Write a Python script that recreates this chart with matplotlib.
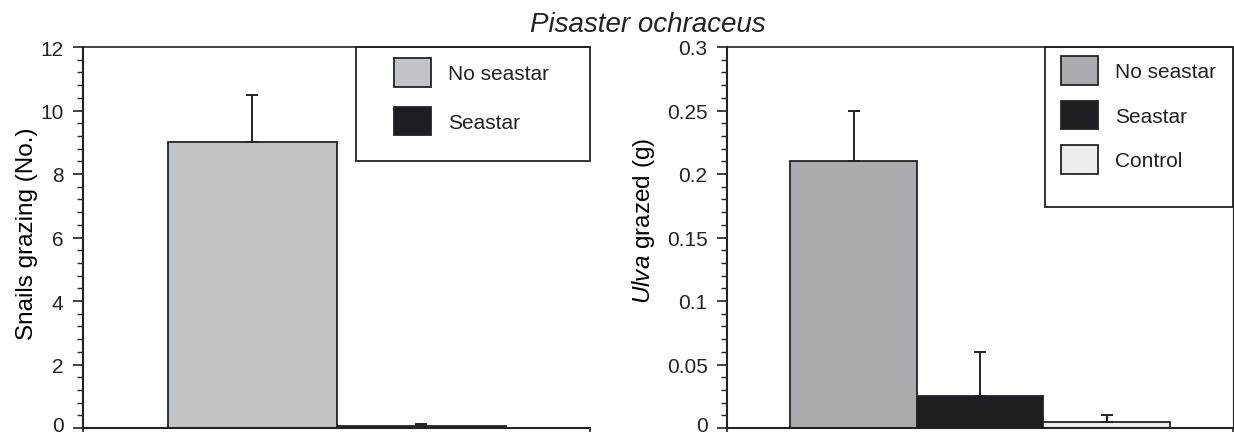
import matplotlib
matplotlib.use("Agg")
import matplotlib.pyplot as plt
from matplotlib.patches import Rectangle
from matplotlib.ticker import MultipleLocator, FuncFormatter
from matplotlib.transforms import ScaledTranslation
import numpy as np

# ---- data ----
title = "Pisaster ochraceus"
left_groups = ["No seastar", "Seastar"]
left_means = [9.0, 0.06]
left_err = [1.5, 0.06]
left_ylabel = "Snails grazing (No.)"

right_groups = ["No seastar", "Seastar", "Control"]
right_means = [0.21, 0.025, 0.005]
right_err = [0.04, 0.035, 0.005]
right_ylabel = r"$\mathit{Ulva}$ grazed (g)"

# ---- style ----
plt.rcParams['font.family'] = ['Liberation Sans', 'DejaVu Sans']
plt.rcParams['mathtext.fontset'] = 'custom'
plt.rcParams['mathtext.rm'] = 'Liberation Sans'
plt.rcParams['mathtext.it'] = 'Liberation Sans:italic'
plt.rcParams['text.color'] = '#222222'

edge = '#222326'
left_colors = ['#c2c5c8', '#1d1e21']
right_colors = ['#aaabae', '#1d1e21', '#ededee']

fig = plt.figure(figsize=(12.34, 4.35), dpi=100)
W, H = 1234, 435
ax_b, ax_t = 429, 48


def make_ax(x0, x1):
    return fig.add_axes([x0 / W, 1 - ax_b / H, (x1 - x0) / W, (ax_b - ax_t) / H])


axL = make_ax(83, 590)
axR = make_ax(727, 1233)


def style(ax, xlim, ylim, major, minor, right_spine):
    ax.set_xlim(*xlim)
    ax.set_ylim(*ylim)
    for s in ['left', 'bottom', 'top']:
        ax.spines[s].set_linewidth(1.5)
        ax.spines[s].set_color(edge)
    ax.spines['top'].set_linewidth(1.2)
    ax.spines['right'].set_visible(right_spine)
    ax.spines['right'].set_color(edge)
    ax.yaxis.set_major_locator(MultipleLocator(major))
    ax.yaxis.set_minor_locator(MultipleLocator(minor))
    ax.tick_params(axis='y', which='major', direction='out', length=7, width=1.2,
                   pad=7, labelsize=15, colors=edge)
    ax.tick_params(axis='y', which='minor', direction='out', length=4, width=1.0, colors=edge)
    ax.set_xticks([xlim[0], xlim[1]])
    ax.set_xticklabels([])
    ax.tick_params(axis='x', which='major', direction='out', length=3, width=1.2, colors=edge)


def draw(ax, groups, means, err, colors):
    x = np.arange(len(groups))
    bars = ax.bar(x, means, width=1.0, color=colors, edgecolor=edge, linewidth=1.3, zorder=2)
    ax.errorbar(x, means, yerr=[np.zeros(len(err)), err], fmt='none', ecolor=edge,
                elinewidth=1.4, capsize=4.3, capthick=1.4, zorder=3)
    return bars


barsL = draw(axL, left_groups, left_means, left_err, left_colors)
barsR = draw(axR, right_groups, right_means, right_err, right_colors)

style(axL, (-1.0, 2.0), (0, 12), 2, 0.4, False)
style(axR, (-1.0, 3.0), (0, 0.3), 0.05, 0.01, True)
axR.yaxis.set_major_formatter(FuncFormatter(lambda v, p: f"{v:g}"))

axL.set_ylabel(left_ylabel, fontsize=17.5)
axR.set_ylabel(right_ylabel, fontsize=17.5)
axL.yaxis.set_label_coords(-0.089, 0.513)
axR.yaxis.set_label_coords(-0.138, 0.546)

fs = 15
fs_px = fs * 100 / 72


def legend(ax, bars, groups, frame, anchor, gap):
    r = Rectangle((frame[0], frame[1]), 1 - frame[0], 1 - frame[1], transform=ax.transAxes,
                  facecolor='none', edgecolor=edge, linewidth=1.3, clip_on=False, zorder=5)
    ax.add_patch(r)
    ax.legend(bars.patches, groups, loc='upper left', bbox_to_anchor=anchor, frameon=False,
              borderpad=0, borderaxespad=0, handlelength=37 / fs_px, handleheight=36 / fs_px,
              handletextpad=17 / fs_px, labelspacing=gap / fs_px, fontsize=fs)


legend(axL, barsL, left_groups, (0.5385, 0.7008), (0.6134, 0.971), 20)
legend(axR, barsR, right_groups, (0.6285, 0.580), (0.660, 0.976), 16)

fig.text(648 / W, 1 - 32 / H, title, ha='center', va='baseline', fontsize=20, style='italic')

# the bottom "0" labels sit a little above their tick in the reference
fig.canvas.draw()
for ax in (axL, axR):
    for t in ax.yaxis.get_major_ticks():
        dy = 4 if abs(t.get_loc()) < 1e-12 else 0
        if dy:
            t.label1.set_transform(t.label1.get_transform()
                                   + ScaledTranslation(0, dy / 100, fig.dpi_scale_trans))

fig.savefig("out.png", dpi=100)
